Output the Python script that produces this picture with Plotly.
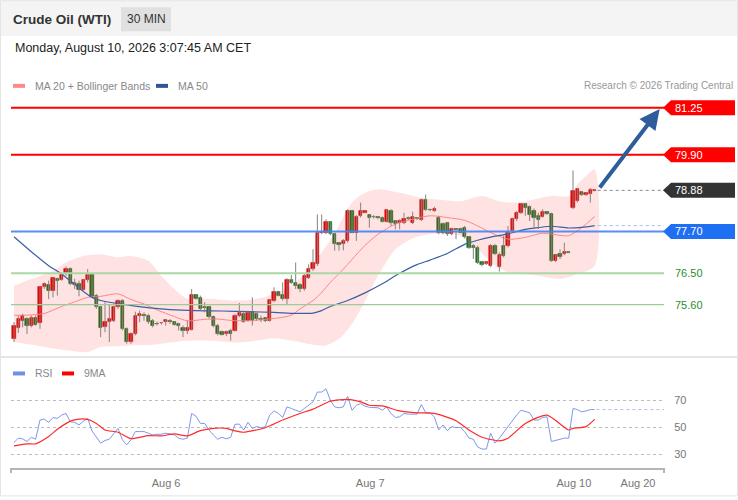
import plotly.graph_objects as go

# ---------- Candles (30 min bars, oldest first) ----------
opens = [74.62, 74.95, 75.14, 75.19, 75.00, 75.21, 75.08, 76.10, 76.16, 76.00,
         76.34, 76.32, 76.51, 76.62, 76.22, 76.20, 76.02, 76.31, 76.45, 75.86,
         75.53, 74.97, 75.10, 75.14, 75.53, 75.72, 74.91, 74.53, 74.76, 75.27,
         75.31, 75.29, 75.14, 75.06, 75.07, 75.10, 75.13, 75.10, 75.04, 74.95,
         74.86, 74.89, 75.88, 75.81, 75.55, 75.53, 75.26, 75.00, 74.83, 74.76,
         74.86, 74.86, 75.29, 75.34, 75.14, 75.40, 75.34, 75.20, 75.21, 75.14,
         75.72, 75.96, 75.88, 75.76, 76.32, 76.24, 76.16, 76.05, 76.38, 76.62,
         76.76, 77.67, 77.67, 77.97, 77.62, 77.37, 77.34, 77.43, 78.29, 77.67,
         78.15, 78.24, 78.19, 78.13, 78.11, 78.10, 77.97, 78.29, 78.00, 77.94,
         77.94, 78.08, 77.96, 78.09, 78.03, 78.60, 78.33, 78.29, 78.10, 77.91,
         77.94, 77.62, 77.77, 77.78, 77.81, 77.55, 77.29, 77.24, 76.83, 76.77,
         76.72, 77.29, 76.70, 77.29, 77.29, 77.72, 78.05, 78.24, 78.48, 78.41,
         78.29, 78.15, 78.13, 78.26, 78.22, 76.86, 77.05, 77.05, 77.11, 78.38,
         78.58, 78.83, 78.74, 78.79, 78.87]
highs = [75.10, 75.29, 75.34, 75.24, 75.29, 75.29, 76.14, 76.24, 76.29, 76.38,
         76.38, 76.53, 76.70, 76.67, 76.34, 76.29, 76.34, 76.62, 76.50, 75.91,
         75.57, 75.67, 75.62, 75.57, 75.76, 75.76, 74.95, 74.81, 75.40, 75.43,
         75.38, 75.34, 75.19, 75.12, 75.10, 75.19, 75.19, 75.10, 75.08, 75.00,
         75.14, 76.05, 75.91, 75.86, 75.67, 75.57, 75.29, 75.05, 74.86, 74.86,
         74.91, 75.34, 75.65, 75.43, 75.43, 75.81, 75.38, 75.29, 75.24, 75.76,
         76.10, 76.00, 76.24, 76.36, 76.45, 76.81, 76.22, 76.48, 76.76, 77.19,
         78.19, 78.19, 78.05, 78.00, 77.67, 77.38, 77.48, 78.34, 78.32, 78.17,
         78.53, 78.32, 78.19, 78.17, 78.15, 78.13, 78.35, 78.34, 78.03, 78.05,
         78.24, 78.13, 78.27, 78.10, 78.64, 78.76, 78.36, 78.41, 78.15, 77.96,
         77.96, 77.81, 77.78, 77.81, 77.86, 77.57, 77.34, 77.29, 76.86, 76.86,
         77.34, 77.34, 77.10, 77.58, 77.86, 78.10, 78.29, 78.51, 78.51, 78.45,
         78.36, 78.24, 78.34, 78.29, 78.24, 77.05, 77.19, 77.38, 77.12, 79.45,
         78.93, 78.86, 78.83, 78.95, 78.92]
lows = [74.53, 74.79, 74.95, 74.76, 74.95, 75.00, 74.91, 76.05, 75.76, 75.81,
        75.86, 76.29, 76.43, 76.16, 76.05, 75.84, 75.96, 76.24, 75.81, 75.48,
        74.67, 74.81, 74.53, 75.10, 75.48, 74.86, 74.48, 74.48, 74.72, 75.10,
        75.14, 75.05, 74.95, 75.00, 75.03, 75.00, 75.05, 75.00, 74.86, 74.67,
        74.76, 74.86, 75.74, 75.43, 75.38, 75.21, 74.95, 74.72, 74.72, 74.70,
        74.57, 74.83, 75.24, 75.08, 75.12, 75.00, 75.14, 75.10, 75.10, 75.12,
        75.67, 75.84, 75.72, 75.62, 76.19, 76.05, 75.96, 76.00, 76.34, 76.57,
        76.71, 77.62, 77.62, 77.59, 77.15, 77.15, 77.16, 77.38, 77.65, 77.43,
        78.10, 78.22, 77.81, 78.07, 78.05, 77.96, 77.96, 77.86, 77.76, 77.76,
        77.91, 78.03, 77.91, 78.03, 78.00, 78.29, 78.28, 78.26, 77.62, 77.62,
        77.57, 77.59, 77.48, 77.65, 77.50, 77.20, 76.91, 76.77, 76.70, 76.74,
        76.67, 77.02, 76.55, 76.96, 77.24, 77.67, 78.00, 78.20, 78.15, 78.00,
        77.77, 77.77, 78.10, 78.17, 76.83, 76.83, 76.91, 77.02, 77.08, 78.34,
        78.53, 78.72, 78.72, 78.53, 78.85]
closes = [75.00, 75.19, 75.29, 75.00, 75.21, 75.03, 76.10, 76.19, 76.00, 76.36,
          76.29, 76.50, 76.62, 76.19, 76.16, 76.03, 76.31, 76.46, 75.84, 75.53,
          74.95, 75.10, 75.19, 75.53, 75.72, 74.91, 74.53, 74.76, 75.29, 75.34,
          75.29, 75.12, 75.00, 75.04, 75.09, 75.16, 75.11, 75.02, 75.00, 74.86,
          74.93, 75.88, 75.76, 75.48, 75.50, 75.24, 75.00, 74.76, 74.74, 74.83,
          74.76, 75.29, 75.36, 75.10, 75.38, 75.14, 75.19, 75.18, 75.14, 75.74,
          75.96, 75.86, 75.76, 76.32, 76.24, 76.14, 76.05, 76.43, 76.64, 76.79,
          77.67, 77.70, 77.97, 77.62, 77.36, 77.31, 77.43, 78.29, 77.67, 78.13,
          78.29, 78.29, 78.10, 78.11, 78.09, 77.97, 78.32, 77.96, 77.91, 78.00,
          78.07, 78.06, 78.13, 78.07, 78.60, 78.32, 78.31, 78.36, 77.67, 77.65,
          77.62, 77.78, 77.75, 77.67, 77.55, 77.24, 77.24, 76.81, 76.74, 76.83,
          77.29, 77.05, 77.02, 77.00, 77.67, 78.05, 78.24, 78.48, 78.38, 78.17,
          78.10, 78.03, 78.26, 78.20, 76.86, 77.02, 76.96, 77.12, 77.10, 78.86,
          78.91, 78.74, 78.81, 78.89, 78.88]
bars = list(range(len(closes)))

# ---------- Indicators (sampled off the chart) ----------
bb_upper_x = [0, 4, 9, 12, 16, 20, 24, 27, 31, 34, 37, 40, 45, 51, 56, 60, 64, 68,
              71, 74, 78, 81, 84, 89, 94, 98, 103, 108, 112, 116, 120, 124, 128,
              130, 132, 134]
bb_upper = [76.15, 76.34, 76.57, 76.81, 77.00, 77.05, 76.96, 77.00, 76.86, 76.43,
            76.05, 75.77, 75.77, 75.72, 75.77, 75.91, 76.15, 76.62, 77.10, 77.65,
            78.53, 78.81, 78.91, 78.81, 78.67, 78.62, 78.57, 78.72, 78.57, 78.53,
            78.62, 78.72, 78.72, 79.05, 79.29, 79.48]
bb_lower_x = [0, 4, 12, 17, 20, 24, 27, 32, 37, 41, 47, 51, 55, 60, 64, 69, 72, 75,
              78, 81, 84, 88, 92, 96, 101, 103, 107, 111, 114, 117, 121, 126, 130, 134]
bb_lower = [74.53, 74.45, 74.29, 74.24, 74.39, 74.41, 74.43, 74.45, 74.53, 74.57,
            74.55, 74.51, 74.55, 74.64, 74.57, 74.45, 74.43, 74.62, 75.05, 75.70,
            76.42, 77.18, 77.50, 77.62, 77.62, 77.57, 77.19, 76.72, 76.53, 76.48,
            76.43, 76.34, 76.48, 76.72]
ma20_x = [0, 3, 7, 11, 14, 17, 20, 24, 27, 30, 33, 37, 40, 44, 47, 50, 54, 58, 61,
          64, 66, 69, 71, 73, 76, 78, 81, 84, 88, 92, 96, 100, 104, 107, 110, 114,
          118, 122, 126, 128, 131, 134]
ma20 = [75.30, 75.30, 75.35, 75.55, 75.68, 75.81, 75.84, 75.91, 75.75, 75.62,
        75.45, 75.26, 75.14, 75.18, 75.19, 75.15, 75.14, 75.18, 75.22, 75.30,
        75.48, 75.72, 75.95, 76.24, 76.62, 76.90, 77.30, 77.62, 77.91, 78.05,
        78.15, 78.10, 78.02, 77.86, 77.67, 77.48, 77.53, 77.65, 77.59, 77.58,
        77.81, 78.13]
ma50_x = [0, 4, 8, 11, 15, 18, 20, 24, 28, 32, 36, 42, 48, 54, 60, 65, 69, 71, 73,
          77, 81, 85, 89, 93, 96, 100, 104, 107, 110, 114, 118, 121, 124, 128, 131, 134]
ma50 = [77.55, 77.12, 76.72, 76.48, 76.08, 75.81, 75.72, 75.63, 75.56, 75.50,
        75.46, 75.43, 75.42, 75.40, 75.38, 75.35, 75.36, 75.43, 75.55, 75.72,
        75.94, 76.20, 76.50, 76.75, 76.88, 77.07, 77.33, 77.45, 77.54, 77.63,
        77.76, 77.81, 77.85, 77.80, 77.82, 77.87]

rsi = [38.6, 41.8, 41.3, 39.3, 42.5, 41.0, 55.3, 56.0, 53.6, 57.2,
       56.5, 59.0, 60.2, 54.0, 53.6, 51.6, 54.5, 56.5, 47.2, 43.0,
       38.1, 40.1, 41.0, 45.0, 49.1, 40.6, 36.9, 40.6, 46.7, 46.7,
       46.7, 45.5, 44.2, 44.7, 44.7, 45.5, 45.0, 44.2, 41.8, 41.0,
       41.8, 60.2, 58.2, 52.8, 52.8, 47.9, 44.2, 41.0, 42.5, 41.3,
       42.5, 52.1, 52.3, 47.9, 53.6, 49.1, 50.4, 49.6, 50.4, 59.0,
       62.1, 60.2, 57.2, 65.1, 63.9, 62.6, 61.4, 63.9, 66.3, 68.8,
       76.1, 76.1, 78.6, 70.0, 65.1, 64.4, 65.1, 72.9, 62.6, 66.3,
       67.5, 65.6, 64.8, 64.4, 64.4, 62.6, 65.1, 60.2, 57.2, 57.7,
       60.2, 59.7, 59.7, 59.7, 66.8, 60.9, 60.7, 57.7, 47.9, 51.6,
       47.4, 50.4, 49.6, 49.9, 46.7, 41.8, 41.0, 35.2, 33.7, 33.7,
       45.5, 38.1, 41.8, 46.0, 50.9, 55.3, 59.0, 62.6, 61.4, 60.7,
       55.3, 55.3, 57.2, 57.7, 39.3, 40.1, 40.6, 41.8, 41.8, 63.9,
       63.1, 61.4, 62.1, 63.1, 63.1]
rsi_ma_x = [0, 3, 5, 8, 10, 13, 15, 17, 19, 21, 24, 27, 31, 34, 37, 40, 43, 46, 49,
            51, 53, 58, 62, 66, 69, 73, 77, 80, 82, 85, 89, 93, 97, 102, 105, 108,
            112, 114, 118, 123, 128, 129, 132, 134]
rsi_ma = [36.1, 37.6, 37.6, 43.0, 48.4, 54.5, 56.0, 55.8, 52.8, 47.9, 46.2, 41.5,
          43.7, 43.5, 45.0, 43.5, 47.4, 49.1, 49.1, 47.2, 46.2, 49.6, 55.3, 60.2,
          63.4, 69.3, 70.7, 68.8, 66.3, 65.8, 62.1, 60.7, 60.2, 54.8, 47.9, 42.5,
          39.8, 41.8, 52.8, 59.0, 47.9, 49.1, 50.4, 55.8]

# ---------- Levels & axis labels ----------
resistance = [81.25, 79.90]
pivot = 77.70
supports = [76.50, 75.60]
target = 81.25
date_ticks = [35.1, 82.2, 129.2, 144.0]
date_labels = ["Aug 6", "Aug 7", "Aug 10", "Aug 20"]
rsi_ticks = [30, 50, 70]
x_range = [-0.69, 150.0]

# ---------- Page geometry (px -> paper) ----------
W, H = 738, 500
ML, MR, MT, MB = 11, 74, 60, 30
PW, PH = W - ML - MR, H - MT - MB


def px_x(px):
    return (px - ML) / PW


def px_y(py):
    return (H - MB - py) / PH


FONT = "Liberation Sans, Arial, sans-serif"
RED, GREEN = "#f00000", "#1d7a1d"

fig = go.Figure()

# Bollinger band
fig.add_trace(go.Scatter(
    x=bb_upper_x + bb_lower_x[::-1], y=bb_upper + bb_lower[::-1],
    fill="toself", fillcolor="rgba(255,0,0,0.11)", mode="lines",
    line=dict(width=0, shape="spline", smoothing=0.8), hoverinfo="skip"))
fig.add_trace(go.Scatter(x=ma20_x, y=ma20, mode="lines",
                         line=dict(color="#ff8585", width=1, shape="spline", smoothing=0.8)))
fig.add_trace(go.Scatter(x=ma50_x, y=ma50, mode="lines",
                         line=dict(color="#3c5ea6", width=1.2, shape="spline", smoothing=0.8)))

# wicks
wx, wy = [], []
for i in bars:
    wx += [i, i, None]
    wy += [lows[i], highs[i], None]
fig.add_trace(go.Scatter(x=wx, y=wy, mode="lines", line=dict(color="#8a8080", width=1),
                         hoverinfo="skip"))

# bodies: red = up, green = down
up = [i for i in bars if closes[i] >= opens[i]]
dn = [i for i in bars if closes[i] < opens[i]]
fig.add_trace(go.Bar(x=up, base=[opens[i] for i in up],
                     y=[max(closes[i] - opens[i], 0.018) for i in up], width=0.72,
                     marker=dict(color=RED, line=dict(color="#c00000", width=0.5))))
fig.add_trace(go.Bar(x=dn, base=[closes[i] for i in dn],
                     y=[max(opens[i] - closes[i], 0.018) for i in dn], width=0.72,
                     marker=dict(color=GREEN, line=dict(color="#145a14", width=0.5))))

# RSI panel
fig.add_trace(go.Scatter(x=bars, y=rsi, mode="lines", yaxis="y2",
                         line=dict(color="#7d98ea", width=1)))
fig.add_trace(go.Scatter(x=rsi_ma_x, y=rsi_ma, mode="lines", yaxis="y2",
                         line=dict(color="#ff2a2a", width=1.2, shape="spline", smoothing=0.6)))

shapes = []
annotations = []

# header band and frame
shapes.append(dict(type="rect", xref="paper", yref="paper", layer="below",
                   x0=px_x(0), x1=px_x(W), y0=px_y(36), y1=px_y(0),
                   fillcolor="#f4f4f4", line=dict(width=0)))
shapes.append(dict(type="rect", xref="paper", yref="paper", layer="below",
                   x0=px_x(121), x1=px_x(171), y0=px_y(31), y1=px_y(7),
                   fillcolor="#e0e0e0", line=dict(width=0)))
shapes.append(dict(type="line", xref="paper", yref="paper",
                   x0=px_x(0), x1=px_x(W), y0=px_y(358.5), y1=px_y(358.5),
                   line=dict(color="#e6e6e6", width=2)))
shapes.append(dict(type="rect", xref="paper", yref="paper",
                   x0=px_x(0.5), x1=px_x(737.5), y0=px_y(498), y1=px_y(0.5),
                   line=dict(color="#e4e4e4", width=1)))
# x-axis end ticks
for xe in (0, 1):
    shapes.append(dict(type="line", xref="paper", yref="paper", x0=xe, x1=xe,
                       y0=0, y1=px_y(475), line=dict(color="#b5b5b5", width=2)))


def level_line(level, color, width):
    shapes.append(dict(type="line", xref="paper", yref="y", x0=0, x1=1,
                       y0=level, y1=level, line=dict(color=color, width=width)))


def level_tag(level, color, text):
    shapes.append(dict(type="path", xref="paper", yref="y", xsizemode="pixel",
                       ysizemode="pixel", xanchor=1, yanchor=level,
                       path="M-1,0L7,7.5L71,7.5L71,-7.5L7,-7.5Z",
                       fillcolor=color, line=dict(width=0)))
    annotations.append(dict(xref="paper", yref="y", x=px_x(673), y=level, text=text,
                            xanchor="left", yanchor="middle", showarrow=False,
                            font=dict(color="white", size=11, family=FONT)))


for lv in resistance:
    level_line(lv, "#ff0000", 2)
    level_tag(lv, "#ff0000", f"{lv:.2f}")
level_line(pivot, "rgba(70,130,245,0.9)", 2)
level_tag(pivot, "#1f6ff2", f"{pivot:.2f}")
level_line(supports[0], "#a9d8a4", 2)
level_line(supports[1], "#9ccb98", 1.2)
for lv in supports:
    annotations.append(dict(xref="paper", yref="y", x=px_x(673), y=lv, text=f"{lv:.2f}",
                            xanchor="left", yanchor="middle", showarrow=False,
                            font=dict(color="#2e8b2e", size=11, family=FONT)))

# last price, last MA50 and last RSI extensions
last = bars[-1]
shapes.append(dict(type="line", xref="x", yref="y", x0=last + 0.7, x1=x_range[1],
                   y0=closes[-1], y1=closes[-1], line=dict(color="#888", width=1, dash="dot")))
level_tag(closes[-1], "#333333", f"{closes[-1]:.2f}")
shapes.append(dict(type="line", xref="x", yref="y", x0=last + 0.7, x1=x_range[1],
                   y0=ma50[-1], y1=ma50[-1], line=dict(color="#a9bfee", width=1, dash="dot")))
shapes.append(dict(type="line", xref="x", yref="y2", x0=last + 0.4, x1=x_range[1],
                   y0=rsi[-1], y1=rsi[-1], line=dict(color="#a9bfee", width=1, dash="dot")))

# projection arrow
annotations.append(dict(xref="x", yref="y", x=149.0, y=target - 0.04,
                        axref="x", ayref="y", ax=last + 0.9, ay=closes[-1] + 0.04,
                        showarrow=True, arrowhead=2, arrowsize=1, arrowwidth=4,
                        arrowcolor="#2f5d9c", text=""))

# header texts
annotations += [
    dict(xref="paper", yref="paper", x=px_x(11), y=px_y(19), text="<b>Crude Oil (WTI)</b>",
         xanchor="left", yanchor="middle", showarrow=False,
         font=dict(size=13.5, color="#333", family=FONT)),
    dict(xref="paper", yref="paper", x=px_x(146), y=px_y(19), text="30 MIN",
         xanchor="center", yanchor="middle", showarrow=False,
         font=dict(size=12, color="#333", family=FONT)),
    dict(xref="paper", yref="paper", x=px_x(13), y=px_y(48),
         text="Monday, August 10, 2026 3:07:45 AM CET", xanchor="left", yanchor="middle",
         showarrow=False, font=dict(size=12.5, color="#222", family=FONT)),
    dict(xref="paper", yref="paper", x=px_x(735), y=px_y(86),
         text="Research © 2026 Trading Central", xanchor="right", yanchor="middle",
         showarrow=False, font=dict(size=10, color="#999", family=FONT)),
]

# hand-made legends
legend_items = [(13, 86, "#ff8a8a", "MA 20 + Bollinger Bands"), (156, 86, "#2f5597", "MA 50"),
                (13, 375, "#6f8fe8", "RSI"), (62, 375, "#ff0000", "9MA")]
for x0, yc, col, label in legend_items:
    shapes.append(dict(type="rect", xref="paper", yref="paper",
                       x0=px_x(x0), x1=px_x(x0 + 12), y0=px_y(yc + 2), y1=px_y(yc - 2),
                       fillcolor=col, line=dict(width=0)))
    annotations.append(dict(xref="paper", yref="paper", x=px_x(x0 + 20), y=px_y(yc),
                            text=label, xanchor="left", yanchor="middle", showarrow=False,
                            font=dict(size=10.5, color="#888", family=FONT)))

fig.update_layout(
    width=W, height=H, margin=dict(l=ML, r=MR, t=MT, b=MB),
    paper_bgcolor="white", plot_bgcolor="white", showlegend=False,
    barmode="overlay", bargap=0, font=dict(family=FONT),
    xaxis=dict(domain=[0, 1], range=x_range, anchor="y2", showgrid=False, zeroline=False,
               showline=True, linecolor="#b5b5b5", linewidth=2,
               tickmode="array", tickvals=date_ticks, ticktext=date_labels,
               ticks="outside", ticklen=4, tickcolor="rgba(0,0,0,0)",
               tickfont=dict(size=11, color="#777")),
    yaxis=dict(domain=[px_y(356), px_y(95)], range=[74.17, 81.62], showgrid=False,
               zeroline=False, showticklabels=False, showline=False),
    yaxis2=dict(domain=[0, px_y(384)], range=[19.6, 83.3], side="right", anchor="x",
                tickmode="array", tickvals=rsi_ticks, showgrid=True, gridcolor="#bdbdbd",
                griddash="dot", gridwidth=1, zeroline=False, showline=False,
                ticks="outside", ticklen=7, tickcolor="rgba(0,0,0,0)",
                tickfont=dict(size=11, color="#777")),
    shapes=shapes, annotations=annotations,
)

# the page body has a default margin; drop it so the figure sits at the window corner
fig.write_html("out.html", config={"displayModeBar": False},
               post_script="document.body.style.margin='0px';")
